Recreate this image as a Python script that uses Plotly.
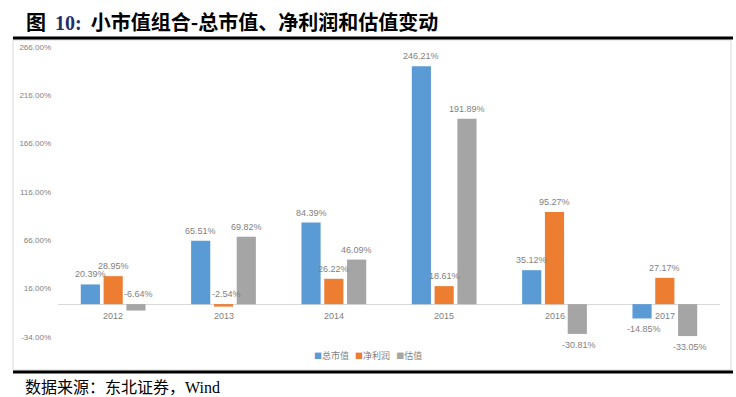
import plotly.graph_objects as go

categories = ["2012", "2013", "2014", "2015", "2016", "2017"]
series_names = ["总市值", "净利润", "估值"]
mkt_cap = [20.39, 65.51, 84.39, 246.21, 35.12, -14.85]
net_profit = [28.95, -2.54, 26.22, 18.61, 95.27, 27.17]
valuation = [-6.64, 69.82, 46.09, 191.89, -30.81, -33.05]
tick_vals = [-34, 16, 66, 116, 166, 216, 266]
tick_text = ["-34.00%", "16.00%", "66.00%", "116.00%", "166.00%", "216.00%", "266.00%"]
colors = ["#5B9BD5", "#ED7D31", "#A5A5A5"]

W, H = 736, 397
L, R, T, B = 58, 16, 47, 60
PW, PH = W - L - R, H - T - B

def px(x):
    return (x - L) / PW

def py(y):
    return (H - B - y) / PH

fig = go.Figure()
all_series = [mkt_cap, net_profit, valuation]
for name, vals, c in zip(series_names, all_series, colors):
    fig.add_trace(go.Bar(x=categories, y=vals, name=name, marker_color=c,
                         marker_line_width=0, showlegend=False))

annotations = []
gap = 0.38
cat_w = PW / len(categories)
slot = cat_w * (1 - gap) / 3
label_font = dict(family="Liberation Sans, Arial", size=9, color="#7f7f7f")
for si, vals in enumerate(all_series):
    shift = (si - 1) * slot
    for ci, v in enumerate(vals):
        txt = f"{v:.2f}%"
        if v >= 0:
            annotations.append(dict(x=ci, y=v, xref="x", yref="y", text=txt, showarrow=False,
                                    yanchor="bottom", yshift=3, xshift=shift, font=label_font))
        elif v > -10:
            annotations.append(dict(x=ci, y=0, xref="x", yref="y", text=txt, showarrow=False,
                                    yanchor="bottom", yshift=3, xshift=shift + 3, font=label_font))
        else:
            annotations.append(dict(x=ci, y=v, xref="x", yref="y", text=txt, showarrow=False,
                                    yanchor="top", yshift=-4, xshift=shift + 2, font=label_font))

for ci, cat in enumerate(categories):
    annotations.append(dict(x=ci, y=0, xref="x", yref="y", text=cat, showarrow=False,
                            yanchor="top", yshift=-5, font=label_font))

# legend (compact, as in the reference)
legend_text = "&nbsp;&nbsp;&nbsp;".join(
    f"<span style='color:{c};font-size:8px'>■</span>{n}" for n, c in zip(series_names, colors))
annotations.append(dict(x=px(368), y=py(355), xref="paper", yref="paper", xanchor="center",
                        yanchor="middle", showarrow=False, text=legend_text,
                        font=dict(family="Noto Sans CJK SC", size=9, color="#7f7f7f")))

annotations.append(dict(x=px(24), y=py(22), xref="paper", yref="paper", xanchor="left",
                        yanchor="middle", showarrow=False,
                        text="<b>图&nbsp;&nbsp;<span style='color:#1f2f6e;font-family:Liberation Serif'>10:</span>&nbsp;&nbsp;小市值组合-总市值、净利润和估值变动</b>",
                        font=dict(family="Noto Sans CJK SC", size=20, color="#000000")))
annotations.append(dict(x=px(23), y=py(386), xref="paper", yref="paper", xanchor="left",
                        yanchor="middle", showarrow=False,
                        text="数据来源：东北证券，<span style='font-family:Liberation Serif'>Wind</span>",
                        font=dict(family="Noto Sans CJK SC", size=16, color="#000000")))

shapes = [
    dict(type="rect", xref="paper", yref="paper", x0=px(13), x1=px(731), y0=py(370), y1=py(40),
         line=dict(color="#d9d9d9", width=1), fillcolor="rgba(0,0,0,0)", layer="below"),
    dict(type="line", xref="paper", yref="paper", x0=px(13), x1=px(733), y0=py(38), y1=py(38),
         line=dict(color="#000000", width=3)),
    dict(type="line", xref="paper", yref="paper", x0=px(13), x1=px(733), y0=py(372), y1=py(372),
         line=dict(color="#000000", width=3)),
]

fig.update_layout(
    width=W, height=H,
    margin=dict(l=L, r=R, t=T, b=B),
    paper_bgcolor="white", plot_bgcolor="white",
    barmode="group", bargap=gap, bargroupgap=0.16,
    showlegend=False,
    xaxis=dict(type="category", range=[-0.5, len(categories) - 0.5], autorange=False,
               showticklabels=False, showgrid=False, zeroline=False, showline=False, ticks=""),
    yaxis=dict(range=[-34, 266], autorange=False, tickvals=tick_vals, ticktext=tick_text,
               showgrid=False, zeroline=True, zerolinecolor="#d9d9d9", zerolinewidth=1,
               showline=False,
               tickfont=dict(family="Liberation Sans, Arial", size=8, color="#7f7f7f"),
               ticklabelstandoff=6),
    annotations=annotations,
    shapes=shapes,
)

fig.write_html("out.html", config={"displayModeBar": False},
               post_script="document.body.style.margin='0';document.body.style.padding='0';")
